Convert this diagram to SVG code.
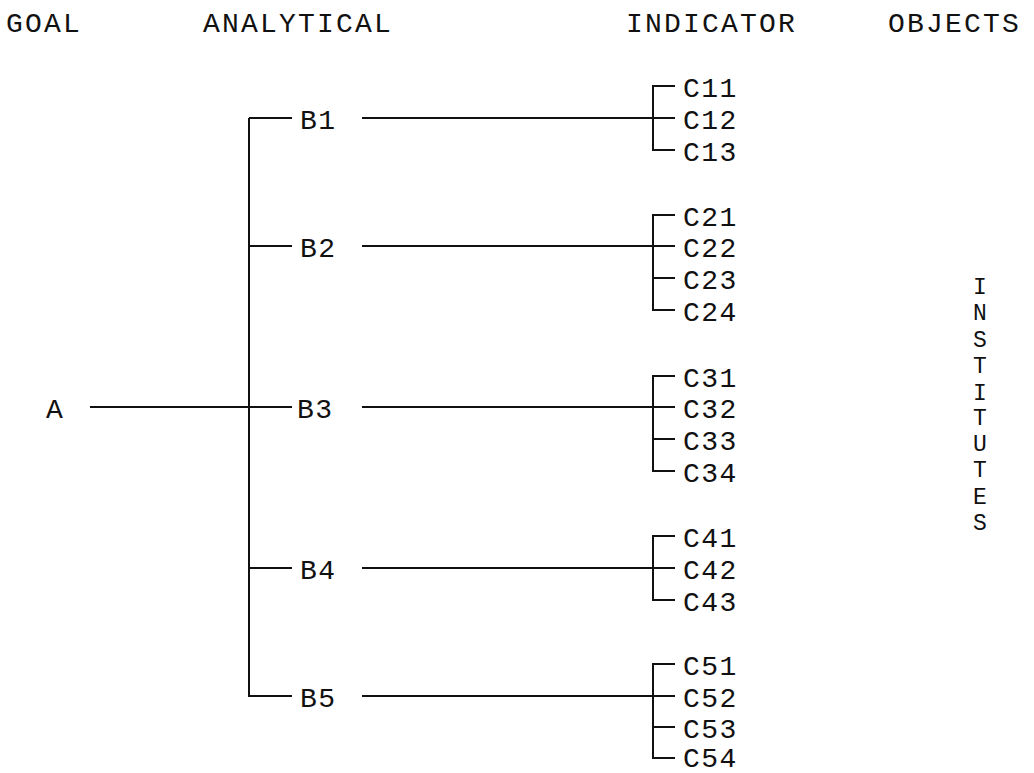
<svg xmlns="http://www.w3.org/2000/svg" width="1034" height="773" viewBox="0 0 1034 773">
<style>
text{font-family:"Liberation Mono","Courier New",monospace;fill:#111;}
.h{font-size:28px;letter-spacing:2.2px;}
.n{font-size:28px;letter-spacing:1.5px;}
.v{font-size:23px;text-anchor:middle;}
line,path{stroke:#111;stroke-width:2;fill:none;}
</style>
<rect width="1034" height="773" fill="#fff"/>
<g id="headers">
<text class="h" x="6" y="32">GOAL</text>
<text class="h" x="203" y="32">ANALYTICAL</text>
<text class="h" x="626" y="32">INDICATOR</text>
<text class="h" x="888" y="32">OBJECTS</text>
</g>
<g id="connectors">
<line x1="90" y1="407" x2="292" y2="407"/>
<line x1="249" y1="118" x2="249" y2="697"/>
<line x1="249" y1="118" x2="292" y2="118"/>
<line x1="249" y1="246" x2="292" y2="246"/>
<line x1="249" y1="568" x2="292" y2="568"/>
<line x1="249" y1="696" x2="292" y2="696"/>
<line x1="362" y1="118" x2="675" y2="118"/>
<line x1="362" y1="246" x2="675" y2="246"/>
<line x1="362" y1="407" x2="675" y2="407"/>
<line x1="362" y1="568" x2="675" y2="568"/>
<line x1="362" y1="696" x2="675" y2="696"/>
<path d="M675 86H653V150H675"/>
<path d="M675 215H653V310H675M653 278H675"/>
<path d="M675 376H653V471H675M653 439H675"/>
<path d="M675 536H653V600H675"/>
<path d="M675 664H653V758H675M653 727H675"/>
</g>
<g id="A"><text class="n" x="46" y="418">A</text></g>
<g id="B1"><text class="n" x="300" y="129">B1</text></g>
<g id="B2"><text class="n" x="300" y="257">B2</text></g>
<g id="B3"><text class="n" x="297" y="418">B3</text></g>
<g id="B4"><text class="n" x="300" y="579">B4</text></g>
<g id="B5"><text class="n" x="300" y="707">B5</text></g>
<g id="C1">
<text class="n" x="683" y="97">C11</text>
<text class="n" x="683" y="129">C12</text>
<text class="n" x="683" y="161">C13</text>
</g>
<g id="C2">
<text class="n" x="683" y="226">C21</text>
<text class="n" x="683" y="257">C22</text>
<text class="n" x="683" y="289">C23</text>
<text class="n" x="683" y="321">C24</text>
</g>
<g id="C3">
<text class="n" x="683" y="387">C31</text>
<text class="n" x="683" y="418">C32</text>
<text class="n" x="683" y="450">C33</text>
<text class="n" x="683" y="482">C34</text>
</g>
<g id="C4">
<text class="n" x="683" y="547">C41</text>
<text class="n" x="683" y="579">C42</text>
<text class="n" x="683" y="611">C43</text>
</g>
<g id="C5">
<text class="n" x="683" y="675">C51</text>
<text class="n" x="683" y="707">C52</text>
<text class="n" x="683" y="738">C53</text>
<text class="n" x="683" y="767">C54</text>
</g>
<g id="institutes">
<text class="v" x="980" y="294">I</text>
<text class="v" x="980" y="320">N</text>
<text class="v" x="980" y="347">S</text>
<text class="v" x="980" y="373">T</text>
<text class="v" x="980" y="400">I</text>
<text class="v" x="980" y="425">T</text>
<text class="v" x="980" y="451">U</text>
<text class="v" x="980" y="477">T</text>
<text class="v" x="980" y="504">E</text>
<text class="v" x="980" y="530">S</text>
</g>
</svg>
